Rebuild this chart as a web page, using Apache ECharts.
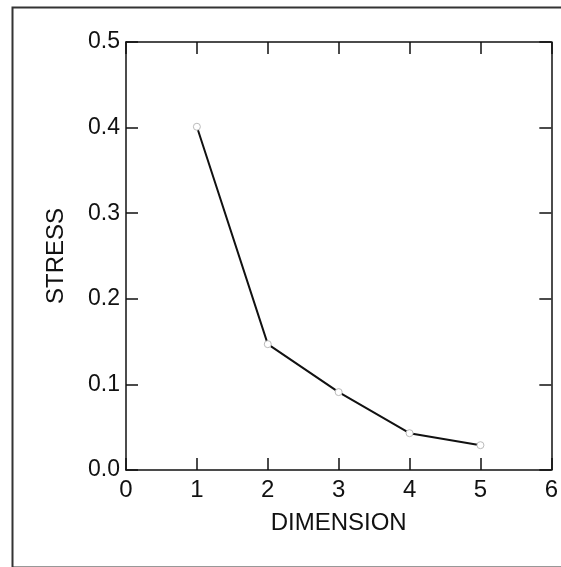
<!DOCTYPE html>
<html>
<head>
<meta charset="utf-8">
<script src="https://cdn.jsdelivr.net/npm/echarts@6/dist/echarts.min.js"></script>
<style>html,body{margin:0;padding:0;background:#fff;}#c{width:561px;height:567px;}</style>
</head>
<body>
<div id="c"></div>
<script>
const dimensions = [1, 2, 3, 4, 5];
const stress = [0.401, 0.147, 0.091, 0.043, 0.029];
const xTicks = [0, 1, 2, 3, 4, 5, 6];
const yTicks = [0.0, 0.1, 0.2, 0.3, 0.4, 0.5];

const chart = echarts.init(document.getElementById('c'));
const font = 'Liberation Sans, Arial, sans-serif';
const axisLine = { show: true, onZero: false, lineStyle: { color: '#111', width: 1.5 } };
const tick = { show: true, inside: true, length: 12, lineStyle: { color: '#111', width: 1.5 } };
chart.setOption({
  animation: false,
  backgroundColor: '#fff',
  graphic: [{
    type: 'rect', left: 10, top: 5, shape: { x: 0, y: 0, width: 556, height: 560 },
    style: { fill: 'none', stroke: '#333', lineWidth: 2 }, silent: true, z: -10
  }],
  grid: { left: 126, right: 8, top: 42, bottom: 97 },
  xAxis: [{
    type: 'value', min: xTicks[0], max: xTicks[xTicks.length - 1], interval: 1,
    position: 'bottom',
    name: 'DIMENSION', nameLocation: 'middle', nameGap: 41,
    nameTextStyle: { fontFamily: font, fontSize: 24, color: '#111' },
    axisLine: axisLine, axisTick: tick, splitLine: { show: false },
    axisLabel: { fontFamily: font, fontSize: 24, color: '#111', margin: 8 }
  }, {
    type: 'value', min: xTicks[0], max: xTicks[xTicks.length - 1], interval: 1,
    position: 'top', axisLine: axisLine, axisTick: tick,
    axisLabel: { show: false }, splitLine: { show: false }
  }],
  yAxis: [{
    type: 'value', min: yTicks[0], max: yTicks[yTicks.length - 1], interval: 0.1,
    position: 'left',
    name: 'STRESS', nameLocation: 'middle', nameGap: 58,
    nameTextStyle: { fontFamily: font, fontSize: 24, color: '#111' },
    axisLine: axisLine, axisTick: tick, splitLine: { show: false },
    axisLabel: { fontFamily: font, fontSize: 23, color: '#111', margin: 6,
      formatter: v => v.toFixed(1) }
  }, {
    type: 'value', min: yTicks[0], max: yTicks[yTicks.length - 1], interval: 0.1,
    position: 'right', axisLine: axisLine, axisTick: tick,
    axisLabel: { show: false }, splitLine: { show: false }
  }],
  series: [{
    type: 'line',
    data: dimensions.map((d, i) => [d, stress[i]]),
    symbol: 'circle', symbolSize: 7,
    lineStyle: { color: '#111', width: 2 },
    itemStyle: { color: '#fff', borderColor: '#bbb', borderWidth: 1 },
    z: 3
  }]
});
</script>
</body>
</html>
